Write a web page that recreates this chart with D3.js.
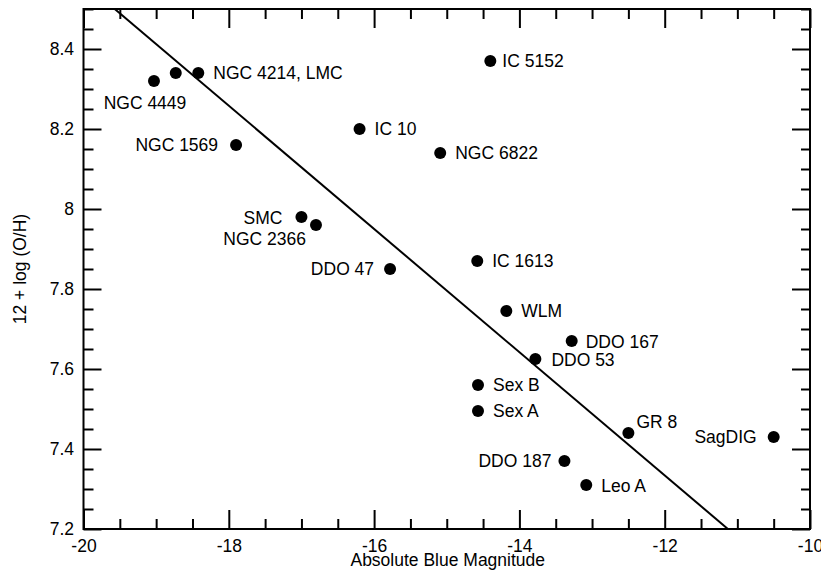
<!DOCTYPE html>
<html>
<head>
<meta charset="utf-8">
<script src="https://cdn.jsdelivr.net/npm/d3@7"></script>
<style>
  body { margin: 0; background: #fff; }
  text { font-family: "Liberation Sans", Arial, Helvetica, sans-serif; fill: #000; }
</style>
</head>
<body>
<div id="chart"></div>
<script>
// galaxy data
var galaxies = ["NGC 4449", "LMC", "NGC 4214", "NGC 1569", "IC 5152", "IC 10", "NGC 6822",
                "SMC", "NGC 2366", "DDO 47", "IC 1613", "WLM", "DDO 167", "DDO 53",
                "Sex B", "Sex A", "DDO 187", "GR 8", "Leo A", "SagDIG"];
var magB = [-19.03, -18.73, -18.42, -17.90, -14.40, -16.20, -15.09,
            -17.00, -16.80, -15.78, -14.58, -14.18, -13.28, -13.78,
            -14.57, -14.57, -13.38, -12.50, -13.08, -10.50];
var oh = [8.32, 8.34, 8.34, 8.16, 8.37, 8.20, 8.14,
          7.98, 7.96, 7.85, 7.87, 7.745, 7.67, 7.625,
          7.56, 7.495, 7.37, 7.44, 7.31, 7.43];
var pointLabels = ["NGC 4449", "", "NGC 4214, LMC", "NGC 1569", "IC 5152", "IC 10", "NGC 6822",
                   "SMC", "NGC 2366", "DDO 47", "IC 1613", "WLM", "DDO 167", "DDO 53",
                   "Sex B", "Sex A", "DDO 187", "GR 8", "Leo A", "SagDIG"];

// fitted relation (two ends)
var fitMag = [-19.57, -11.13];
var fitOH = [8.5, 7.2];

var xMajor = [-20, -18, -16, -14, -12, -10];
var yMajor = [7.2, 7.4, 7.6, 7.8, 8, 8.2, 8.4];

// where each label sits relative to its dot
var labelPlace = {
  "NGC 4449": {dx: -9, dy: 28, anchor: "middle"},
  "NGC 4214, LMC": {dx: 15, dy: 6, anchor: "start"},
  "NGC 1569": {dx: -18, dy: 6, anchor: "end"},
  "IC 5152": {dx: 12, dy: 6, anchor: "start"},
  "IC 10": {dx: 15, dy: 6, anchor: "start"},
  "NGC 6822": {dx: 15, dy: 6, anchor: "start"},
  "SMC": {dx: -19, dy: 7, anchor: "end"},
  "NGC 2366": {dx: -10, dy: 20, anchor: "end"},
  "DDO 47": {dx: -16, dy: 6, anchor: "end"},
  "IC 1613": {dx: 15, dy: 6, anchor: "start"},
  "WLM": {dx: 15, dy: 6, anchor: "start"},
  "DDO 167": {dx: 14, dy: 7, anchor: "start"},
  "DDO 53": {dx: 16, dy: 7, anchor: "start"},
  "Sex B": {dx: 15, dy: 6, anchor: "start"},
  "Sex A": {dx: 15, dy: 6, anchor: "start"},
  "DDO 187": {dx: -13, dy: 6, anchor: "end"},
  "GR 8": {dx: 8, dy: -5, anchor: "start"},
  "Leo A": {dx: 15, dy: 7, anchor: "start"},
  "SagDIG": {dx: -17, dy: 6, anchor: "end"}
};

var W = 821, H = 576;
var plotL = 83.5, plotR = 810, plotT = 9, plotB = 529;

var svg = d3.select("#chart").append("svg")
  .attr("width", W)
  .attr("height", H);

var x = d3.scaleLinear().domain([-20, -10]).range([plotL, plotR]);
var y = d3.scaleLinear().domain([7.2, 8.5]).range([plotB, plotT]);

var xMinor = d3.range(-20, -10 + 0.001, 0.5).filter(function(v) { return Math.abs(v - Math.round(v / 2) * 2) > 0.01; });
var yMinor = d3.range(7.2, 8.5 + 0.001, 0.05).filter(function(v) { return Math.abs(v * 5 - Math.round(v * 5)) > 0.01; });

svg.append("defs").append("clipPath").attr("id", "plot")
  .append("rect").attr("x", plotL).attr("y", plotT).attr("width", plotR - plotL).attr("height", plotB - plotT);

function styleAxis(g) {
  g.select(".domain").remove();
  g.selectAll("line").attr("stroke", "#000").attr("stroke-width", 2);
  g.selectAll("text").style("font-size", "17.5px").attr("fill", "#000");
}

var fmt = function(d) { return String(+d.toFixed(2)); };

// bottom
svg.append("g").attr("transform", "translate(0," + plotB + ")")
  .call(d3.axisBottom(x).tickValues(xMajor).tickSizeInner(-19).tickSizeOuter(0).tickPadding(11).tickFormat(fmt))
  .call(styleAxis);
svg.append("g").attr("transform", "translate(0," + plotB + ")")
  .call(d3.axisBottom(x).tickValues(xMinor).tickSizeInner(-10).tickSizeOuter(0).tickFormat(""))
  .call(styleAxis);
// top
svg.append("g").attr("transform", "translate(0," + plotT + ")")
  .call(d3.axisTop(x).tickValues(xMajor).tickSizeInner(-19).tickSizeOuter(0).tickFormat(""))
  .call(styleAxis);
svg.append("g").attr("transform", "translate(0," + plotT + ")")
  .call(d3.axisTop(x).tickValues(xMinor).tickSizeInner(-10).tickSizeOuter(0).tickFormat(""))
  .call(styleAxis);
// left
svg.append("g").attr("transform", "translate(" + plotL + ",0)")
  .call(d3.axisLeft(y).tickValues(yMajor).tickSizeInner(-18).tickSizeOuter(0).tickPadding(9.5).tickFormat(fmt))
  .call(styleAxis);
svg.append("g").attr("transform", "translate(" + plotL + ",0)")
  .call(d3.axisLeft(y).tickValues(yMinor).tickSizeInner(-10).tickSizeOuter(0).tickFormat(""))
  .call(styleAxis);
// right
svg.append("g").attr("transform", "translate(" + plotR + ",0)")
  .call(d3.axisRight(y).tickValues(yMajor).tickSizeInner(-18).tickSizeOuter(0).tickFormat(""))
  .call(styleAxis);
svg.append("g").attr("transform", "translate(" + plotR + ",0)")
  .call(d3.axisRight(y).tickValues(yMinor).tickSizeInner(-9).tickSizeOuter(0).tickFormat(""))
  .call(styleAxis);

// frame
svg.append("rect")
  .attr("x", plotL).attr("y", plotT)
  .attr("width", plotR - plotL).attr("height", plotB - plotT)
  .attr("fill", "none").attr("stroke", "#000").attr("stroke-width", 2);

// fitted line
var fit = fitMag.map(function(m, i) { return [m, fitOH[i]]; });
svg.append("path")
  .datum(fit)
  .attr("clip-path", "url(#plot)")
  .attr("fill", "none")
  .attr("stroke", "#000")
  .attr("stroke-width", 2)
  .attr("d", d3.line().x(function(d) { return x(d[0]); }).y(function(d) { return y(d[1]); }));

// points
var pts = galaxies.map(function(g, i) { return {name: g, m: magB[i], v: oh[i], label: pointLabels[i]}; });

svg.append("g").selectAll("circle")
  .data(pts)
  .enter().append("circle")
  .attr("cx", function(d) { return x(d.m); })
  .attr("cy", function(d) { return y(d.v); })
  .attr("r", 6)
  .attr("fill", "#000");

svg.append("g").selectAll("text")
  .data(pts.filter(function(d) { return d.label; }))
  .enter().append("text")
  .attr("x", function(d) { return x(d.m) + labelPlace[d.label].dx; })
  .attr("y", function(d) { return y(d.v) + labelPlace[d.label].dy; })
  .attr("text-anchor", function(d) { return labelPlace[d.label].anchor; })
  .style("font-size", "17.5px")
  .text(function(d) { return d.label; });

// axis titles
svg.append("text")
  .attr("x", (plotL + plotR) / 2 + 1)
  .attr("y", 566)
  .attr("text-anchor", "middle")
  .style("font-size", "17.5px")
  .text("Absolute Blue Magnitude");

svg.append("text")
  .attr("transform", "translate(26," + (plotT + plotB) / 2 + ") rotate(-90)")
  .attr("text-anchor", "middle")
  .style("font-size", "17.5px")
  .text("12 + log (O/H)");
</script>
</body>
</html>
